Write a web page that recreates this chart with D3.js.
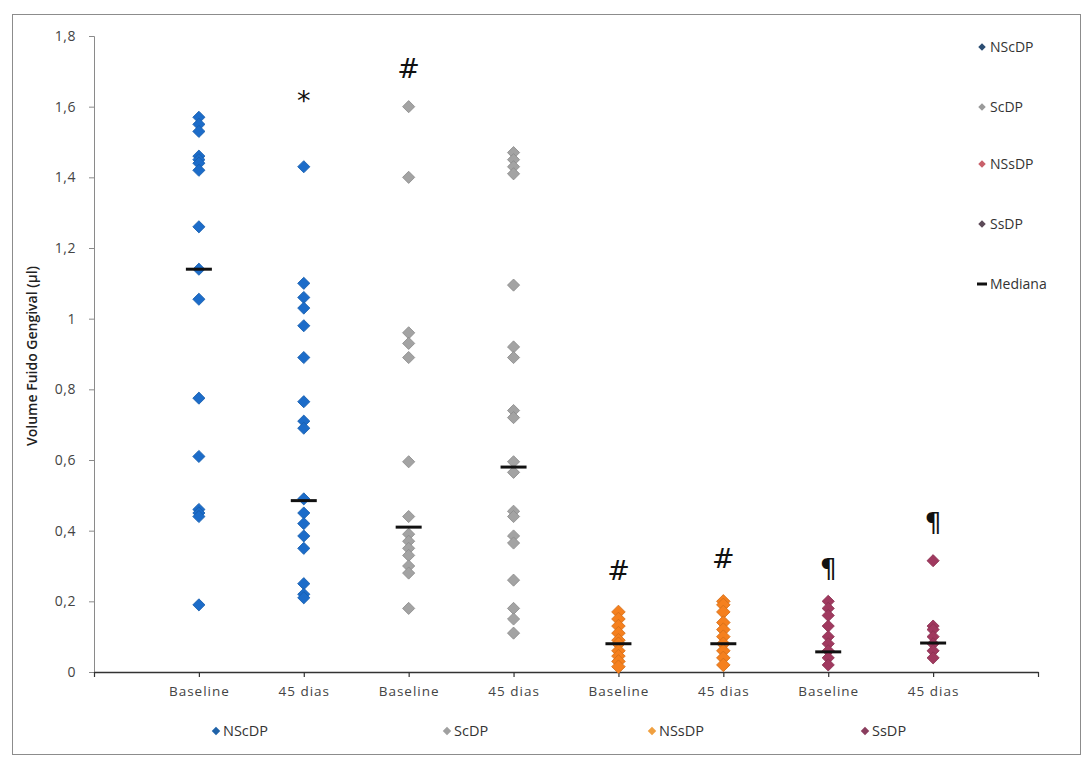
<!DOCTYPE html>
<html>
<head>
<meta charset="utf-8">
<script src="https://cdn.jsdelivr.net/npm/d3@7"></script>
<style>
  html, body { margin: 0; padding: 0; background: #fff; }
  svg { display: block; }
  text { font-family: "Open Sans", "Noto Sans", sans-serif; }
</style>
</head>
<body>
<svg id="chart" width="1089" height="767"></svg>
<script>
// Category labels along the x axis (two time points per group)
const categories = ["Baseline", "45 dias", "Baseline", "45 dias", "Baseline", "45 dias", "Baseline", "45 dias"];
const groups = ["NScDP", "ScDP", "NSsDP", "SsDP"];
const groupColors = ["#1c6cc9", "#a3a3a3", "#f5801e", "#a0395f"];

// Gingival crevicular fluid volume (µl), one array per group and time point
const nscdpBaseline = [1.57, 1.55, 1.53, 1.46, 1.45, 1.44, 1.42, 1.26, 1.14, 1.055, 0.775, 0.61, 0.46, 0.45, 0.44, 0.19];
const nscdp45 = [1.43, 1.10, 1.06, 1.03, 0.98, 0.89, 0.765, 0.71, 0.69, 0.49, 0.45, 0.42, 0.385, 0.35, 0.25, 0.22, 0.21];
const scdpBaseline = [1.60, 1.40, 0.96, 0.93, 0.89, 0.595, 0.44, 0.39, 0.37, 0.35, 0.33, 0.30, 0.28, 0.18];
const scdp45 = [1.47, 1.45, 1.43, 1.41, 1.095, 0.92, 0.89, 0.74, 0.72, 0.595, 0.565, 0.455, 0.44, 0.385, 0.365, 0.26, 0.18, 0.15, 0.11];
const nssdpBaseline = [0.17, 0.15, 0.13, 0.11, 0.09, 0.08, 0.06, 0.045, 0.03, 0.015];
const nssdp45 = [0.20, 0.19, 0.17, 0.14, 0.12, 0.10, 0.08, 0.06, 0.04, 0.02];
const ssdpBaseline = [0.20, 0.18, 0.16, 0.13, 0.10, 0.08, 0.06, 0.04, 0.02];
const ssdp45 = [0.315, 0.13, 0.12, 0.10, 0.08, 0.06, 0.04];

const seriesValues = [nscdpBaseline, nscdp45, scdpBaseline, scdp45, nssdpBaseline, nssdp45, ssdpBaseline, ssdp45];

// Median of each category
const medians = [1.14, 0.485, 0.41, 0.58, 0.08, 0.08, 0.057, 0.082];

// Significance marks above the columns and the level of their baseline
const sigMarks = ["", "*", "#", "", "#", "#", "¶", "¶"];
const sigLevels = [0, 1.59, 1.68, 0, 0.26, 0.295, 0.265, 0.395];

const yTicks = [0, 0.2, 0.4, 0.6, 0.8, 1, 1.2, 1.4, 1.6, 1.8];

const svg = d3.select("#chart");
const plot = { left: 94, right: 1038, top: 36, bottom: 672 };

const x = d3.scaleLinear().domain([0, categories.length + 1]).range([plot.left, plot.right]);
const y = d3.scaleLinear().domain([0, 1.8]).range([plot.bottom, plot.top]);

const ptBR = d3.formatLocale({ decimal: ",", thousands: ".", grouping: [3], currency: ["R$", ""] });
const fmt = v => ptBR.format("~g")(v);

// Outer chart frame
svg.append("rect")
  .attr("x", 12.5).attr("y", 14.5).attr("width", 1068).attr("height", 740)
  .attr("fill", "#fff").attr("stroke", "#8c8c8c").attr("stroke-width", 1);

// Y axis
const yAxis = svg.append("g")
  .attr("transform", `translate(${plot.left},0)`)
  .call(d3.axisLeft(y).tickValues(yTicks).tickFormat(fmt).tickSize(5).tickPadding(13));
yAxis.select(".domain").attr("stroke", "#8a8a8a");
yAxis.selectAll(".tick line").attr("stroke", "#8a8a8a");
yAxis.selectAll(".tick text").attr("font-size", 14).attr("fill", "#444")
  .attr("letter-spacing", "0.5px")
  .style("font-family", "'Open Sans', sans-serif");

// X axis with a tick at each category and at both ends
const xAxis = svg.append("g")
  .attr("transform", `translate(0,${plot.bottom})`)
  .call(d3.axisBottom(x)
    .tickValues(d3.range(0, categories.length + 2))
    .tickFormat(d => (d >= 1 && d <= categories.length) ? categories[d - 1] : "")
    .tickSize(5).tickSizeOuter(0).tickPadding(9));
xAxis.select(".domain").attr("stroke", "#333").attr("stroke-width", 1.6);
xAxis.selectAll(".tick line").attr("stroke", "#333").attr("stroke-width", 1.2);
xAxis.selectAll(".tick text").attr("font-size", 13.5).attr("fill", "#444")
  .attr("letter-spacing", "1px")
  .style("font-family", "'Open Sans', sans-serif");

// Y axis title
svg.append("text")
  .attr("transform", `translate(37,${(plot.top + plot.bottom) / 2 + 2}) rotate(-90)`)
  .attr("text-anchor", "middle")
  .attr("font-size", 14).attr("font-weight", 600).attr("fill", "#222")
  .text("Volume Fuido Gengival (µl)");

// Diamond marker: square rotated 45°
const diamond = d3.symbol().type(d3.symbolSquare).size(74);
const bigDiamond = d3.symbol().type(d3.symbolSquare).size(92);

// Data points
const pointsG = svg.append("g");
seriesValues.forEach((vals, i) => {
  const gi = Math.floor(i / 2);
  pointsG.selectAll(null)
    .data(vals)
    .join("path")
    .attr("d", gi === 2 ? bigDiamond : diamond)
    .attr("transform", v => `translate(${x(i + 1)},${y(v)}) rotate(45)`)
    .attr("fill", groupColors[gi])
    .attr("stroke", d3.color(groupColors[gi]).darker(0.4))
    .attr("stroke-width", 0.8);
});

// Median bars
svg.append("g").selectAll("line")
  .data(medians)
  .join("line")
  .attr("x1", (m, i) => x(i + 1) - 13)
  .attr("x2", (m, i) => x(i + 1) + 13)
  .attr("y1", m => y(m))
  .attr("y2", m => y(m))
  .attr("stroke", "#111")
  .attr("stroke-width", 3);

// Significance marks
svg.append("g").selectAll("text")
  .data(sigMarks)
  .join("text")
  .attr("x", (s, i) => x(i + 1))
  .attr("y", (s, i) => y(sigLevels[i]))
  .attr("text-anchor", "middle")
  .attr("font-size", 27)
  .attr("fill", "#111")
  .style("font-family", "'DejaVu Sans', sans-serif")
  .text(s => s);

// Legend on the right
const legendColors = ["#2b4d72", "#9a9a9a", "#c9606a", "#5c4a58", "#111"];
const legendLabels = groups.concat(["Mediana"]);
const legendYs = [47, 107, 164, 224, 284];
const rightLegend = svg.append("g");
legendLabels.forEach((lab, i) => {
  const g = rightLegend.append("g").attr("transform", `translate(982,${legendYs[i]})`);
  if (i < 4) {
    g.append("path").attr("d", d3.symbol().type(d3.symbolSquare).size(28))
      .attr("transform", "rotate(45)").attr("fill", legendColors[i]);
  } else {
    g.append("line").attr("x1", -5).attr("x2", 5).attr("stroke", "#111").attr("stroke-width", 3);
  }
  g.append("text").attr("x", 8).attr("y", 5).attr("font-size", 14).attr("fill", "#333").text(lab);
});

// Legend below the axis
const bottomLegendX = [216, 447, 652, 865];
const bottomColors = ["#1f62a8", "#a0a0a0", "#f0a040", "#8a3d5e"];
const bottomLegend = svg.append("g");
groups.forEach((lab, i) => {
  const g = bottomLegend.append("g").attr("transform", `translate(${bottomLegendX[i]},731)`);
  g.append("path").attr("d", d3.symbol().type(d3.symbolSquare).size(36))
    .attr("transform", "rotate(45)").attr("fill", bottomColors[i]);
  g.append("text").attr("x", 7).attr("y", 5).attr("font-size", 14.5).attr("fill", "#333").text(lab);
});
</script>
</body>
</html>
